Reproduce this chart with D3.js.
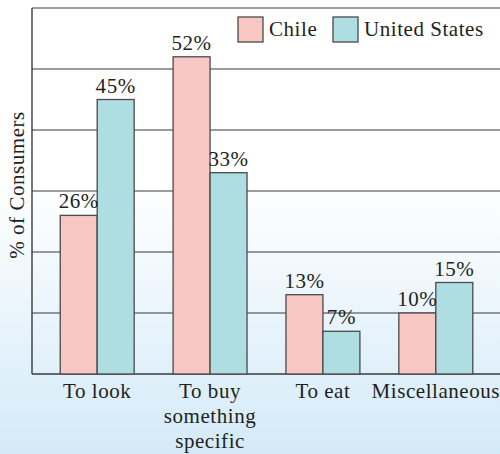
<!DOCTYPE html>
<html>
<head>
<meta charset="utf-8">
<script src="https://cdn.jsdelivr.net/npm/d3@7"></script>
<style>
  body { margin: 0; }
  svg { display: block; font-family: "Liberation Serif", "DejaVu Serif", serif; }
  text { letter-spacing: 0.55px; }
</style>
</head>
<body>
<div id="chart"></div>
<script>
const categories = ["To look", "To buy something specific", "To eat", "Miscellaneous"];
const categoryLines = [["To look"], ["To buy", "something", "specific"], ["To eat"], ["Miscellaneous"]];
const series = ["Chile", "United States"];
const chile = [26, 52, 13, 10];
const unitedStates = [45, 33, 7, 15];
const yTicks = [10, 20, 30, 40, 50, 60];

const width = 500, height = 454;
const margin = { top: 8, right: 0, bottom: 80, left: 32 };
const colors = ["#f9c7c3", "#aedde2"];
const ink = "#231f20";

const data = categories.map((c, i) => ({ category: c, values: [chile[i], unitedStates[i]] }));

const svg = d3.select("#chart")
    .append("svg")
    .attr("width", width)
    .attr("height", height);

const defs = svg.append("defs");
const grad = defs.append("linearGradient")
    .attr("id", "bg")
    .attr("x1", 0).attr("y1", 0)
    .attr("x2", 0).attr("y2", 1);
grad.append("stop").attr("offset", "0%").attr("stop-color", "#ffffff");
grad.append("stop").attr("offset", "40%").attr("stop-color", "#ffffff");
grad.append("stop").attr("offset", "100%").attr("stop-color", "#d3eaf8");

svg.append("rect")
    .attr("width", width)
    .attr("height", height)
    .attr("fill", "url(#bg)");

const x = d3.scaleBand()
    .domain(categories)
    .range([margin.left, 501])
    .paddingInner(0.345)
    .paddingOuter(0.25);

const xSub = d3.scaleBand()
    .domain(series)
    .range([0, x.bandwidth()]);

const y = d3.scaleLinear()
    .domain([0, 60])
    .range([374, margin.top]);

// gridlines
svg.append("g")
    .selectAll("line")
    .data(yTicks)
    .enter()
    .append("line")
    .attr("x1", margin.left)
    .attr("x2", width)
    .attr("y1", d => y(d))
    .attr("y2", d => y(d))
    .attr("stroke", "#3a3a3a")
    .attr("stroke-width", 1.2);

// axes lines
svg.append("line")
    .attr("x1", margin.left).attr("x2", width)
    .attr("y1", y(0)).attr("y2", y(0))
    .attr("stroke", "#3a3a3a").attr("stroke-width", 1.4);
svg.append("line")
    .attr("x1", margin.left).attr("x2", margin.left)
    .attr("y1", y(0)).attr("y2", y(60))
    .attr("stroke", "#3a3a3a").attr("stroke-width", 1.4);

// bars
const groups = svg.append("g")
    .selectAll("g")
    .data(data)
    .enter()
    .append("g")
    .attr("transform", d => `translate(${x(d.category)},0)`);

groups.selectAll("rect")
    .data(d => d.values.map((v, i) => ({ key: series[i], value: v, idx: i })))
    .enter()
    .append("rect")
    .attr("x", d => xSub(d.key))
    .attr("y", d => y(d.value))
    .attr("width", xSub.bandwidth())
    .attr("height", d => y(0) - y(d.value))
    .attr("fill", d => colors[d.idx])
    .attr("stroke", "#4a4a4a")
    .attr("stroke-width", 1.3);

groups.selectAll("text")
    .data(d => d.values.map((v, i) => ({ key: series[i], value: v })))
    .enter()
    .append("text")
    .attr("x", d => xSub(d.key) + xSub.bandwidth() / 2)
    .attr("y", d => y(d.value) - 7)
    .attr("text-anchor", "middle")
    .attr("font-size", 21)
    .attr("fill", ink)
    .text(d => d.value + "%");

// x labels
const xl = svg.append("g")
    .selectAll("text")
    .data(categories)
    .enter()
    .append("text")
    .attr("x", d => x(d) + x.bandwidth() / 2)
    .attr("y", 398)
    .attr("text-anchor", "middle")
    .attr("font-size", 21)
    .attr("fill", ink);

xl.selectAll("tspan")
    .data((d, i) => categoryLines[i])
    .enter()
    .append("tspan")
    .attr("x", function () { return d3.select(this.parentNode).attr("x"); })
    .attr("dy", (d, i) => i === 0 ? 0 : 25)
    .text(d => d);

// y label
svg.append("text")
    .attr("transform", "translate(24,185) rotate(-90)")
    .attr("text-anchor", "middle")
    .attr("font-size", 21)
    .attr("fill", ink)
    .text("% of Consumers");

// legend
const legend = svg.append("g");
const legendX = [238, 333];
series.forEach((s, i) => {
    legend.append("rect")
        .attr("x", legendX[i])
        .attr("y", 17)
        .attr("width", 25)
        .attr("height", 25)
        .attr("fill", colors[i])
        .attr("stroke", "#4a4a4a")
        .attr("stroke-width", 1.3);
    legend.append("text")
        .attr("x", legendX[i] + 31)
        .attr("y", 36)
        .attr("font-size", 21)
        .attr("fill", ink)
        .text(s);
});
</script>
</body>
</html>
